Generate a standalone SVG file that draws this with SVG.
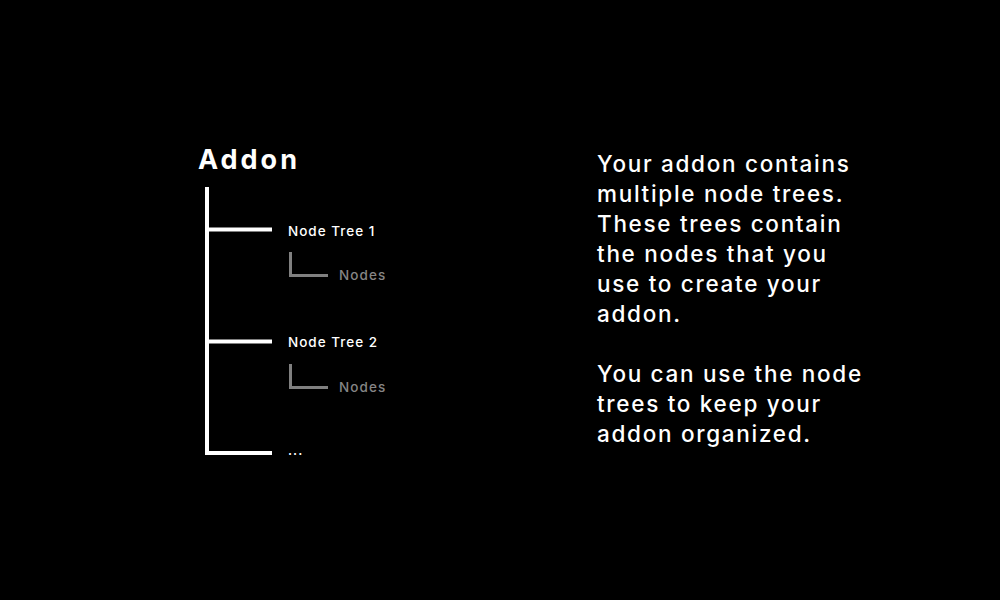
<svg xmlns="http://www.w3.org/2000/svg" width="1000" height="600" viewBox="0 0 1000 600">
  <style>
    .title { font-family: Inter, "Noto Sans", sans-serif; font-weight: 700; font-size: 27px; letter-spacing: 3px; fill: #ffffff; }
    .tree { font-family: Inter, "Noto Sans", sans-serif; font-weight: 500; font-size: 13.5px; letter-spacing: 1px; fill: #ffffff; }
    .leaf { font-family: Inter, "Noto Sans", sans-serif; font-weight: 500; font-size: 13.5px; letter-spacing: 1.1px; fill: #858585; }
    .body { font-family: Inter, "Noto Sans", sans-serif; font-weight: 500; font-size: 22.5px; letter-spacing: 1.7px; fill: #ffffff; }
    .trunk { stroke: #ffffff; stroke-width: 4; fill: none; }
    .twig { stroke: #808080; stroke-width: 3; fill: none; }
  </style>
  <rect width="1000" height="600" fill="#000000"/>

  <!-- tree branches -->
  <g id="connectors">
    <path class="trunk" d="M207 187 V455 M205 229.5 H272 M205 341.5 H272 M205 453 H272"/>
    <path class="twig" d="M290.5 252 V275.5 H328"/>
    <path class="twig" d="M290.5 364 V387.5 H328"/>
  </g>

  <g id="addon"><text class="title" x="198" y="169">Addon</text></g>
  <g id="tree1"><text class="tree" x="288" y="236">Node Tree 1</text></g>
  <g id="nodes1"><text class="leaf" x="339" y="280">Nodes</text></g>
  <g id="tree2"><text class="tree" x="288" y="347">Node Tree 2</text></g>
  <g id="nodes2"><text class="leaf" x="339" y="392">Nodes</text></g>
  <g id="more"><text class="tree" x="288" y="455">...</text></g>

  <!-- explanatory text -->
  <g id="description">
    <text class="body" x="597" y="172">Your addon contains</text>
    <text class="body" x="597" y="202">multiple node trees.</text>
    <text class="body" x="597" y="232">These trees contain</text>
    <text class="body" x="597" y="262">the nodes that you</text>
    <text class="body" x="597" y="292">use to create your</text>
    <text class="body" x="597" y="322">addon.</text>
    <text class="body" x="597" y="382">You can use the node</text>
    <text class="body" x="597" y="412">trees to keep your</text>
    <text class="body" x="597" y="442">addon organized.</text>
  </g>
</svg>
